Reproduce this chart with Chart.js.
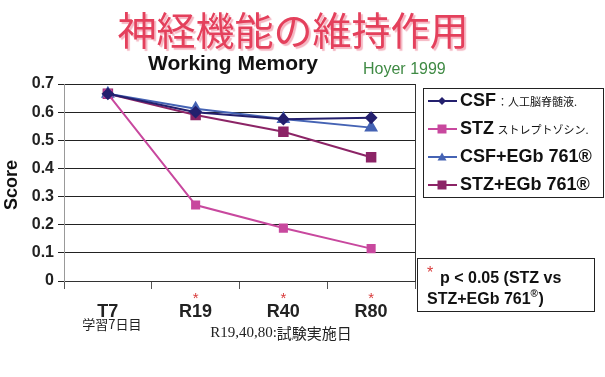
<!DOCTYPE html>
<html>
<head>
<meta charset="utf-8">
<script src="https://cdn.jsdelivr.net/npm/chart.js@4.4.1/dist/chart.umd.min.js"></script>
<style>
  body { margin: 0; background: #fff; }
  #wrap { position: relative; width: 605px; height: 377px; overflow: hidden; }
  canvas { position: absolute; left: 0; top: 0; }
  .txt { position: absolute; white-space: nowrap; }
  #title { left: 0; width: 586px; top: 0px; text-align: center; font: 39px "Noto Sans CJK JP", sans-serif; color: #e4405c; text-shadow: 2px 2px 1px #f5b6c2; }
  #sub { left: 148px; top: 51px; font: bold 21px "Liberation Sans", Arial, sans-serif; color: #111; }
  #hoyer { left: 363px; top: 60px; font: 16px "Liberation Sans", Arial, sans-serif; color: #3f8a44; }
</style>
</head>
<body>
<div id="wrap">
  <canvas id="chart" width="605" height="377"></canvas>
  <div class="txt" id="title">神経機能の維持作用</div>
  <div class="txt" id="sub">Working Memory</div>
  <div class="txt" id="hoyer">Hoyer 1999</div>
</div>
<script>
// --- DATA ---
const categories = ["T7", "R19", "R40", "R80"];
const csf = [0.665, 0.600, 0.575, 0.580];
const stz = [0.665, 0.270, 0.188, 0.115];
const csfEgb = [0.665, 0.612, 0.576, 0.545];
const stzEgb = [0.665, 0.590, 0.530, 0.440];
const yTicks = [0, 0.1, 0.2, 0.3, 0.4, 0.5, 0.6, 0.7];
const starred = ["R19", "R40", "R80"];

const legendNames = [
    ["CSF", "：人工脳脊髄液."],
    ["STZ", " ストレプトゾシン."],
    ["CSF+EGb 761®", ""],
    ["STZ+EGb 761®", ""]
];

const FONT = '"Liberation Sans", Arial, sans-serif';
const CJK = '"Noto Sans CJK JP", sans-serif';

function drawMarker(ctx, style, x, y, r, color) {
    ctx.save();
    ctx.fillStyle = color;
    ctx.beginPath();
    if (style === "rectRot") {
        ctx.moveTo(x, y - r); ctx.lineTo(x + r, y); ctx.lineTo(x, y + r); ctx.lineTo(x - r, y);
    } else if (style === "triangle") {
        ctx.moveTo(x, y - r); ctx.lineTo(x + r, y + r * 0.8); ctx.lineTo(x - r, y + r * 0.8);
    } else {
        ctx.rect(x - r, y - r, r * 2, r * 2);
    }
    ctx.closePath();
    ctx.fill();
    ctx.restore();
}

// --- extras: right border, asterisks, notes, legend ---
const extras = {
    id: "extras",
    afterDraw(chart) {
        const ctx = chart.ctx;
        const a = chart.chartArea;
        const xs = chart.scales.x;
        ctx.save();
        // right border of plot
        ctx.strokeStyle = "#333";
        ctx.lineWidth = 1;
        ctx.beginPath();
        ctx.moveTo(a.right + 0.5, a.top);
        ctx.lineTo(a.right + 0.5, a.bottom);
        ctx.stroke();

        // asterisks
        ctx.fillStyle = "#d83a3a";
        ctx.font = "15px " + FONT;
        ctx.textAlign = "center";
        ctx.textBaseline = "middle";
        starred.forEach(c => {
            ctx.fillText("*", xs.getPixelForValue(categories.indexOf(c)), 299);
        });

        // x notes
        ctx.fillStyle = "#222";
        ctx.font = "13px " + CJK;
        ctx.fillText("学習7日目", xs.getPixelForValue(0) + 4, 324);
        ctx.font = "15px \"Liberation Serif\", serif";
        ctx.textAlign = "left";
        const p1 = "R19,40,80:";
        const w1 = ctx.measureText(p1).width;
        ctx.font = "15px " + CJK;
        const w2 = ctx.measureText("試験実施日").width;
        const sx = 281 - (w1 + w2) / 2;
        ctx.font = "15px \"Liberation Serif\", serif";
        ctx.fillText(p1, sx, 333);
        ctx.font = "15px " + CJK;
        ctx.fillText("試験実施日", sx + w1, 333);

        // legend box
        ctx.strokeStyle = "#222";
        ctx.strokeRect(423.5, 88.5, 180, 109);
        const rows = [101, 129, 157, 185];
        chart.data.datasets.forEach((ds, i) => {
            const y = rows[i];
            ctx.strokeStyle = ds.borderColor;
            ctx.lineWidth = 2;
            ctx.beginPath();
            ctx.moveTo(428, y); ctx.lineTo(457, y);
            ctx.stroke();
            drawMarker(ctx, ds.pointStyle, 442, y, ds.pointStyle === "rectRot" ? 4 : 4.5, ds.pointBackgroundColor);
            ctx.fillStyle = "#111";
            ctx.textAlign = "left";
            ctx.textBaseline = "middle";
            ctx.font = "bold 18px " + FONT;
            ctx.fillText(legendNames[i][0], 460, y);
            if (legendNames[i][1]) {
                const w = ctx.measureText(legendNames[i][0]).width;
                ctx.font = "11px " + CJK;
                ctx.fillText(legendNames[i][1], 460 + w + 1, y + 1);
            }
        });

        // significance note
        ctx.lineWidth = 1;
        ctx.strokeStyle = "#222";
        ctx.strokeRect(417.5, 258.5, 177, 53);
        ctx.fillStyle = "#d83a3a";
        ctx.font = "16px " + FONT;
        ctx.fillText("*", 427, 274);
        ctx.fillStyle = "#111";
        ctx.font = "bold 16px " + FONT;
        ctx.fillText("p < 0.05 (STZ vs", 440, 279);
        const lw = ctx.measureText("STZ+EGb 761").width;
        ctx.fillText("STZ+EGb 761", 427, 300);
        ctx.font = "bold 10px " + FONT;
        ctx.fillText("®", 427 + lw, 294);
        ctx.font = "bold 16px " + FONT;
        ctx.fillText(")", 427 + lw + 8, 300);

        // y axis title
        ctx.save();
        ctx.translate(12, 185);
        ctx.rotate(-Math.PI / 2);
        ctx.textAlign = "center";
        ctx.font = "bold 18px " + FONT;
        ctx.fillText("Score", 0, 0);
        ctx.restore();

        ctx.restore();
    }
};

function series(label, data, color, style, r) {
    return {
        label: label,
        data: data,
        borderColor: color,
        backgroundColor: color,
        pointBackgroundColor: color,
        pointBorderColor: color,
        pointStyle: style,
        pointRadius: r,
        borderWidth: 2,
        tension: 0
    };
}

const chart = new Chart(document.getElementById("chart"), {
    type: "line",
    data: {
        labels: categories,
        datasets: [
            series("CSF", csf, "#24206e", "rectRot", 5),
            series("STZ", stz, "#c8489e", "rect", 5),
            series("CSF+EGb 761", csfEgb, "#4563b4", "triangle", 6),
            series("STZ+EGb 761", stzEgb, "#8c2466", "rect", 6)
        ]
    },
    options: {
        responsive: false,
        animation: false,
        layout: { padding: { top: 84, right: 190, left: 0, bottom: 0 } },
        plugins: { legend: { display: false }, tooltip: { enabled: false }, title: { display: false } },
        scales: {
            x: {
                offset: true,
                afterFit: s => { s.height = 96; },
                grid: { drawOnChartArea: false, drawTicks: true, tickLength: 8, color: "#555", offset: true },
                border: { color: "#333" },
                ticks: { color: "#222", padding: 12, font: { family: FONT, size: 18, weight: "bold" } }
            },
            y: {
                min: 0, max: 0.7,
                afterFit: s => { s.width = 64; },
                afterBuildTicks: s => { s.ticks = yTicks.map(v => ({ value: v })); },
                grid: { color: "#222", lineWidth: 1, tickLength: 6 },
                border: { color: "#999" },
                ticks: { color: "#222", padding: 4, font: { family: FONT, size: 16, weight: "bold" },
                    callback: v => v === 0 ? "0" : v.toFixed(1) }
            }
        }
    },
    plugins: [extras]
});
</script>
</body>
</html>
